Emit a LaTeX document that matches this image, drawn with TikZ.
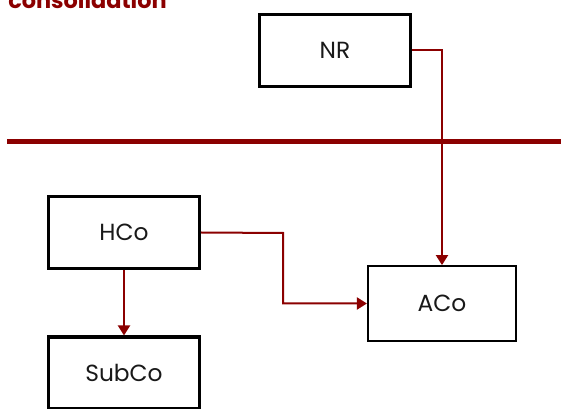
\documentclass[tikz,border=0pt]{standalone}
\usepackage{fontspec}
\setmainfont{Poppins}
\usetikzlibrary{arrows.meta}
\definecolor{dred}{HTML}{8B0000}
\tikzset{
  box/.style={draw=black, line width=2.3pt, fill=white, minimum width=113pt, minimum height=54pt, inner sep=0pt, font=\fontsize{17.5}{20}\selectfont, text=black!90},
  thinbox/.style={box, line width=1.6pt, minimum width=111pt, minimum height=56pt},
  conn/.style={draw=dred, line width=1.5pt, -{Triangle[length=7.5pt,width=9pt]}}
}
\begin{document}
\begin{tikzpicture}[x=0.75pt,y=-0.75pt]
\useasboundingbox (0,0) rectangle (561,409);
\clip (0,0) rectangle (561,409);
\node[anchor=base west, inner sep=0pt, text=dred, font=\bfseries\fontsize{16.8}{19}\selectfont] (title) at (8,8.5) {consolidation};
\node[box] (NR) at (335,50.5) {NR};
\node[box] (HCo) at (124,232.5) {HCo};
\node[box] (SubCo) at (124,373) {SubCo};
\node[thinbox] (ACo) at (442,303.5) {ACo};
\coordinate (L1) at (7,142);
\coordinate (L2) at (561,142);
\draw[dred, line width=3.75pt] (L1) -- (L2);
\coordinate (bend) at (283,233);
\draw[conn] (NR.east) -| (ACo.north);
\draw[conn] (HCo.east) -- (bend) |- (ACo.west);
\draw[conn] (HCo.south) -- (SubCo.north);
\end{tikzpicture}
\end{document}
